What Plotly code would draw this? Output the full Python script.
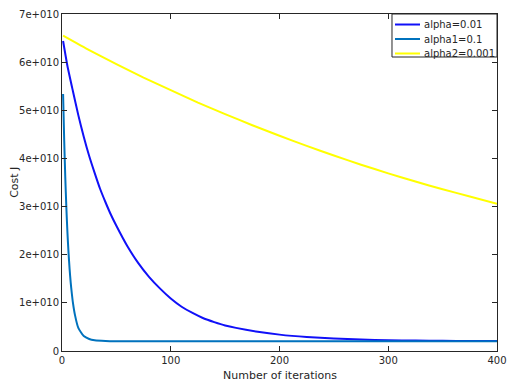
import plotly.graph_objects as go

# Iteration indices and cost values (x 1e10)
iters_a = [1, 5, 10, 15, 20, 25, 30, 35, 40, 45, 50, 60, 70, 80, 90, 100, 110, 120,
           130, 140, 150, 160, 180, 200, 225, 250, 275, 300, 325, 350, 375, 400]
cost_a = [6.44, 5.92, 5.40, 4.90, 4.45, 4.05, 3.70, 3.37, 3.09, 2.83, 2.60, 2.18,
          1.83, 1.54, 1.30, 1.09, 0.92, 0.79, 0.68, 0.60, 0.53, 0.48, 0.40, 0.34,
          0.29, 0.258, 0.237, 0.224, 0.216, 0.211, 0.208, 0.206]

iters_a1 = [1, 2, 3, 4, 5, 6, 7, 8, 9, 10, 12, 15, 20, 25, 30, 40, 50, 100, 150,
            200, 250, 300, 350, 400]
cost_a1 = [5.34, 4.40, 3.62, 2.98, 2.46, 2.04, 1.70, 1.42, 1.20, 1.01, 0.74, 0.48,
           0.31, 0.25, 0.225, 0.21, 0.205, 0.204, 0.204, 0.204, 0.204, 0.204, 0.204, 0.204]

iters_a2 = [1, 25, 50, 75, 100, 125, 150, 175, 200, 225, 250, 275, 300, 325, 350,
            375, 400]
cost_a2 = [6.55, 6.25, 5.96, 5.68, 5.42, 5.16, 4.92, 4.69, 4.47, 4.26, 4.06, 3.87,
           3.69, 3.52, 3.36, 3.21, 3.06]

names = ["alpha=0.01", "alpha1=0.1", "alpha2=0.001"]
colors = ["#1010F8", "#0072BD", "#FFFF00"]

y_tickvals = [0, 1e10, 2e10, 3e10, 4e10, 5e10, 6e10, 7e10]
y_ticktext = ["0", "1e+010", "2e+010", "3e+010", "4e+010", "5e+010", "6e+010", "7e+010"]
x_tickvals = [0, 100, 200, 300, 400]

SCALE = 1e10

fig = go.Figure()
for it, c, n, col in [(iters_a, cost_a, names[0], colors[0]),
                      (iters_a1, cost_a1, names[1], colors[1]),
                      (iters_a2, cost_a2, names[2], colors[2])]:
    fig.add_trace(go.Scatter(x=it, y=[v * SCALE for v in c], mode="lines", name=n,
                             showlegend=False,
                             line=dict(color=col, width=2, shape="spline", smoothing=0.5)))

font_color = "#262626"
axis_common = dict(showline=True, linecolor="#262626", linewidth=1, mirror="ticks",
                   ticks="inside", ticklen=5, tickcolor="#262626", showgrid=False,
                   zeroline=False, automargin=False,
                   tickfont=dict(family="DejaVu Sans", size=10, color=font_color))

fig.update_xaxes(range=[0, 400], tickvals=x_tickvals, **axis_common)
fig.update_yaxes(range=[0, 7e10], tickvals=y_tickvals, ticktext=y_ticktext, **axis_common)

title_font = dict(family="DejaVu Sans", size=11, color=font_color)
annotations = [
    dict(text="Number of iterations", xref="paper", yref="paper", x=0.5, y=-0.0733,
         xanchor="center", yanchor="middle", showarrow=False, font=title_font),
    dict(text="Cost J", xref="paper", yref="paper", x=-0.1095, y=0.5, textangle=-90,
         xanchor="center", yanchor="middle", showarrow=False, font=title_font),
]

# Legend box drawn in the Octave style
shapes = [dict(type="rect", xref="paper", yref="paper", x0=0.7586, x1=1.0, y0=0.8724, y1=1.0,
               line=dict(color="#262626", width=1), fillcolor="white", layer="above")]
legend_y = [0.9688, 0.9258, 0.8828]
for n, col, ly in zip(names, colors, legend_y):
    shapes.append(dict(type="line", xref="paper", yref="paper", x0=0.7655, x1=0.823,
                       y0=ly, y1=ly, line=dict(color=col, width=2), layer="above"))
    annotations.append(dict(text=n, xref="paper", yref="paper", x=0.8276, y=ly,
                            xanchor="left", yanchor="middle", showarrow=False,
                            font=dict(family="DejaVu Sans", size=10, color=font_color)))

fig.update_layout(
    width=515, height=381,
    margin=dict(l=54, r=26, t=6, b=38),
    paper_bgcolor="white", plot_bgcolor="white",
    showlegend=False,
    shapes=shapes,
    annotations=annotations,
)

fig.write_html("out.html")
